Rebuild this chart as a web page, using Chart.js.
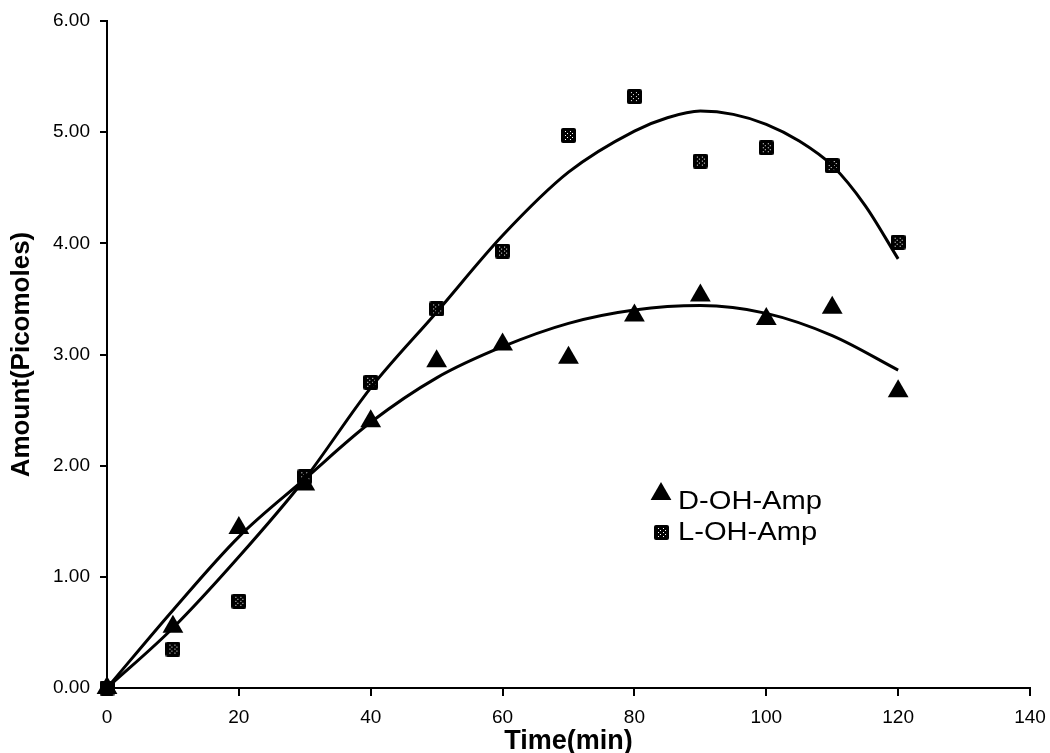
<!DOCTYPE html>
<html>
<head>
<meta charset="utf-8">
<script src="https://cdn.jsdelivr.net/npm/chart.js@4.4.1/dist/chart.umd.min.js"></script>
<style>
  html, body { margin: 0; padding: 0; background: #fff; }
  #wrap { width: 1050px; height: 753px; }
</style>
</head>
<body>
<div id="wrap"><canvas id="chart" width="1050" height="753"></canvas></div>
<script>
/* ---- dados ---- */
const times = [0, 10, 20, 30, 40, 50, 60, 70, 80, 90, 100, 110, 120];
const dAmp  = [0, 0.55, 1.44, 1.83, 2.40, 2.94, 3.09, 2.97, 3.35, 3.53, 3.32, 3.42, 2.67];
const lAmp  = [0, 0.35, 0.78, 1.90, 2.75, 3.41, 3.93, 4.97, 5.32, 4.74, 4.86, 4.70, 4.01];
const dFitTimes = [0, 10, 20, 30, 40, 50, 60, 70, 80, 90, 100, 110, 120];
const dFit      = [0, 0.70, 1.36, 1.88, 2.39, 2.79, 3.07, 3.28, 3.40, 3.44, 3.37, 3.17, 2.86];
const lFitTimes = [0, 10, 20, 30, 40, 50, 60, 70, 80, 85, 90, 95, 100, 105, 110, 115, 120];
const lFit      = [0, 0.54, 1.18, 1.88, 2.70, 3.38, 4.07, 4.64, 5.01, 5.13, 5.19, 5.16, 5.07, 4.92, 4.70, 4.34, 3.86];
const xTicks = [0, 20, 40, 60, 80, 100, 120, 140];
const yTicks = [0, 1, 2, 3, 4, 5, 6];
const seriesNames = ['D-OH-Amp', 'L-OH-Amp'];

const FONT = "'Liberation Sans', Arial, Helvetica, sans-serif";
const pts = (xs, ys) => xs.map((t, i) => ({ x: t, y: ys[i] }));

/* --- quadrado pontilhado (marcador L) --- */
function makeDottedSquare(size) {
  const c = document.createElement('canvas');
  c.width = size; c.height = size;
  const g = c.getContext('2d');
  g.fillStyle = '#000';
  g.beginPath();
  g.roundRect(0, 0, size, size, 2);
  g.fill();
  g.fillStyle = '#fff';
  const s = size / 15;
  [[4,3],[9,3],[6,5],[11,5],[4,7],[9,7],[6,9],[11,9],[4,11],[9,11]].forEach(([x, y]) => {
    g.fillRect(Math.round(x * s), Math.round(y * s), 1, 1);
  });
  return c;
}
const squareImg = makeDottedSquare(15);

/* --- legenda desenhada dentro da área --- */
const legendPlugin = {
  id: 'innerLegend',
  afterDraw(chart) {
    const ctx = chart.ctx;
    ctx.save();
    ctx.fillStyle = '#000';
    Chart.helpers.drawPoint(ctx, { pointStyle: 'triangle', radius: 12, borderWidth: 0 }, 661, 494);
    ctx.drawImage(squareImg, 654, 525);
    ctx.font = '26px ' + FONT;
    ctx.textBaseline = 'alphabetic';
    ctx.textAlign = 'left';
    /* texto um pouco mais largo, como no original */
    ctx.translate(678, 0);
    ctx.scale(1.12, 1);
    ctx.fillText(seriesNames[0], 0, 509);
    ctx.fillText(seriesNames[1], 0, 540);
    ctx.restore();
  }
};

const fitLine = (label, xs, ys) => ({
  label,
  type: 'line',
  data: pts(xs, ys),
  borderColor: '#000',
  borderWidth: 3,
  pointRadius: 0,
  cubicInterpolationMode: 'monotone',
  fill: false,
  clip: false,
});

new Chart(document.getElementById('chart'), {
  type: 'scatter',
  data: {
    datasets: [
      fitLine(seriesNames[0] + ' fit', dFitTimes, dFit),
      fitLine(seriesNames[1] + ' fit', lFitTimes, lFit),
      {
        label: seriesNames[0],
        data: pts(times, dAmp),
        pointStyle: 'triangle',
        pointRadius: 12,
        pointHoverRadius: 12,
        backgroundColor: '#000',
        borderColor: '#000',
        borderWidth: 0,
        clip: false,
      },
      {
        label: seriesNames[1],
        data: pts(times, lAmp),
        pointStyle: squareImg,
        pointRadius: 8,
        clip: false,
      },
    ],
  },
  options: {
    responsive: false,
    animation: false,
    devicePixelRatio: 1,
    layout: { padding: { top: 21, right: 20, left: 0, bottom: 0 } },
    plugins: {
      legend: { display: false },
      tooltip: { enabled: false },
    },
    scales: {
      x: {
        type: 'linear',
        min: 0,
        max: 140,
        afterFit: s => { s.height = 65; s.paddingLeft = 0; s.paddingRight = 0; },
        afterBuildTicks: s => { s.ticks = xTicks.map(v => ({ value: v })); },
        ticks: {
          color: '#000',
          font: { family: FONT, size: 19 },
          padding: 10,
          maxRotation: 0,
        },
        grid: {
          drawOnChartArea: false,
          drawTicks: true,
          tickLength: 8,
          color: '#000',
          lineWidth: 2,
        },
        border: { display: true, color: '#000', width: 2 },
        title: {
          display: true,
          text: 'Time(min)',
          color: '#000',
          font: { family: FONT, size: 27, weight: 'bold', lineHeight: 0.85 },
          padding: { top: 0, bottom: 0 },
        },
      },
      y: {
        type: 'linear',
        min: 0,
        max: 6,
        afterFit: s => { s.width = 107; s.paddingTop = 0; s.paddingBottom = 0; },
        afterBuildTicks: s => { s.ticks = yTicks.map(v => ({ value: v })); },
        ticks: {
          color: '#000',
          font: { family: FONT, size: 19 },
          padding: 10,
          callback: v => v.toFixed(2),
        },
        grid: {
          drawOnChartArea: false,
          drawTicks: true,
          tickLength: 7,
          color: '#000',
          lineWidth: 2,
        },
        border: { display: true, color: '#000', width: 2 },
        title: {
          display: true,
          text: 'Amount(Picomoles)',
          color: '#000',
          font: { family: FONT, size: 26, weight: 'bold', lineHeight: 0.9 },
          padding: { top: 10, bottom: 0 },
        },
      },
    },
  },
  plugins: [legendPlugin],
});
</script>
</body>
</html>
